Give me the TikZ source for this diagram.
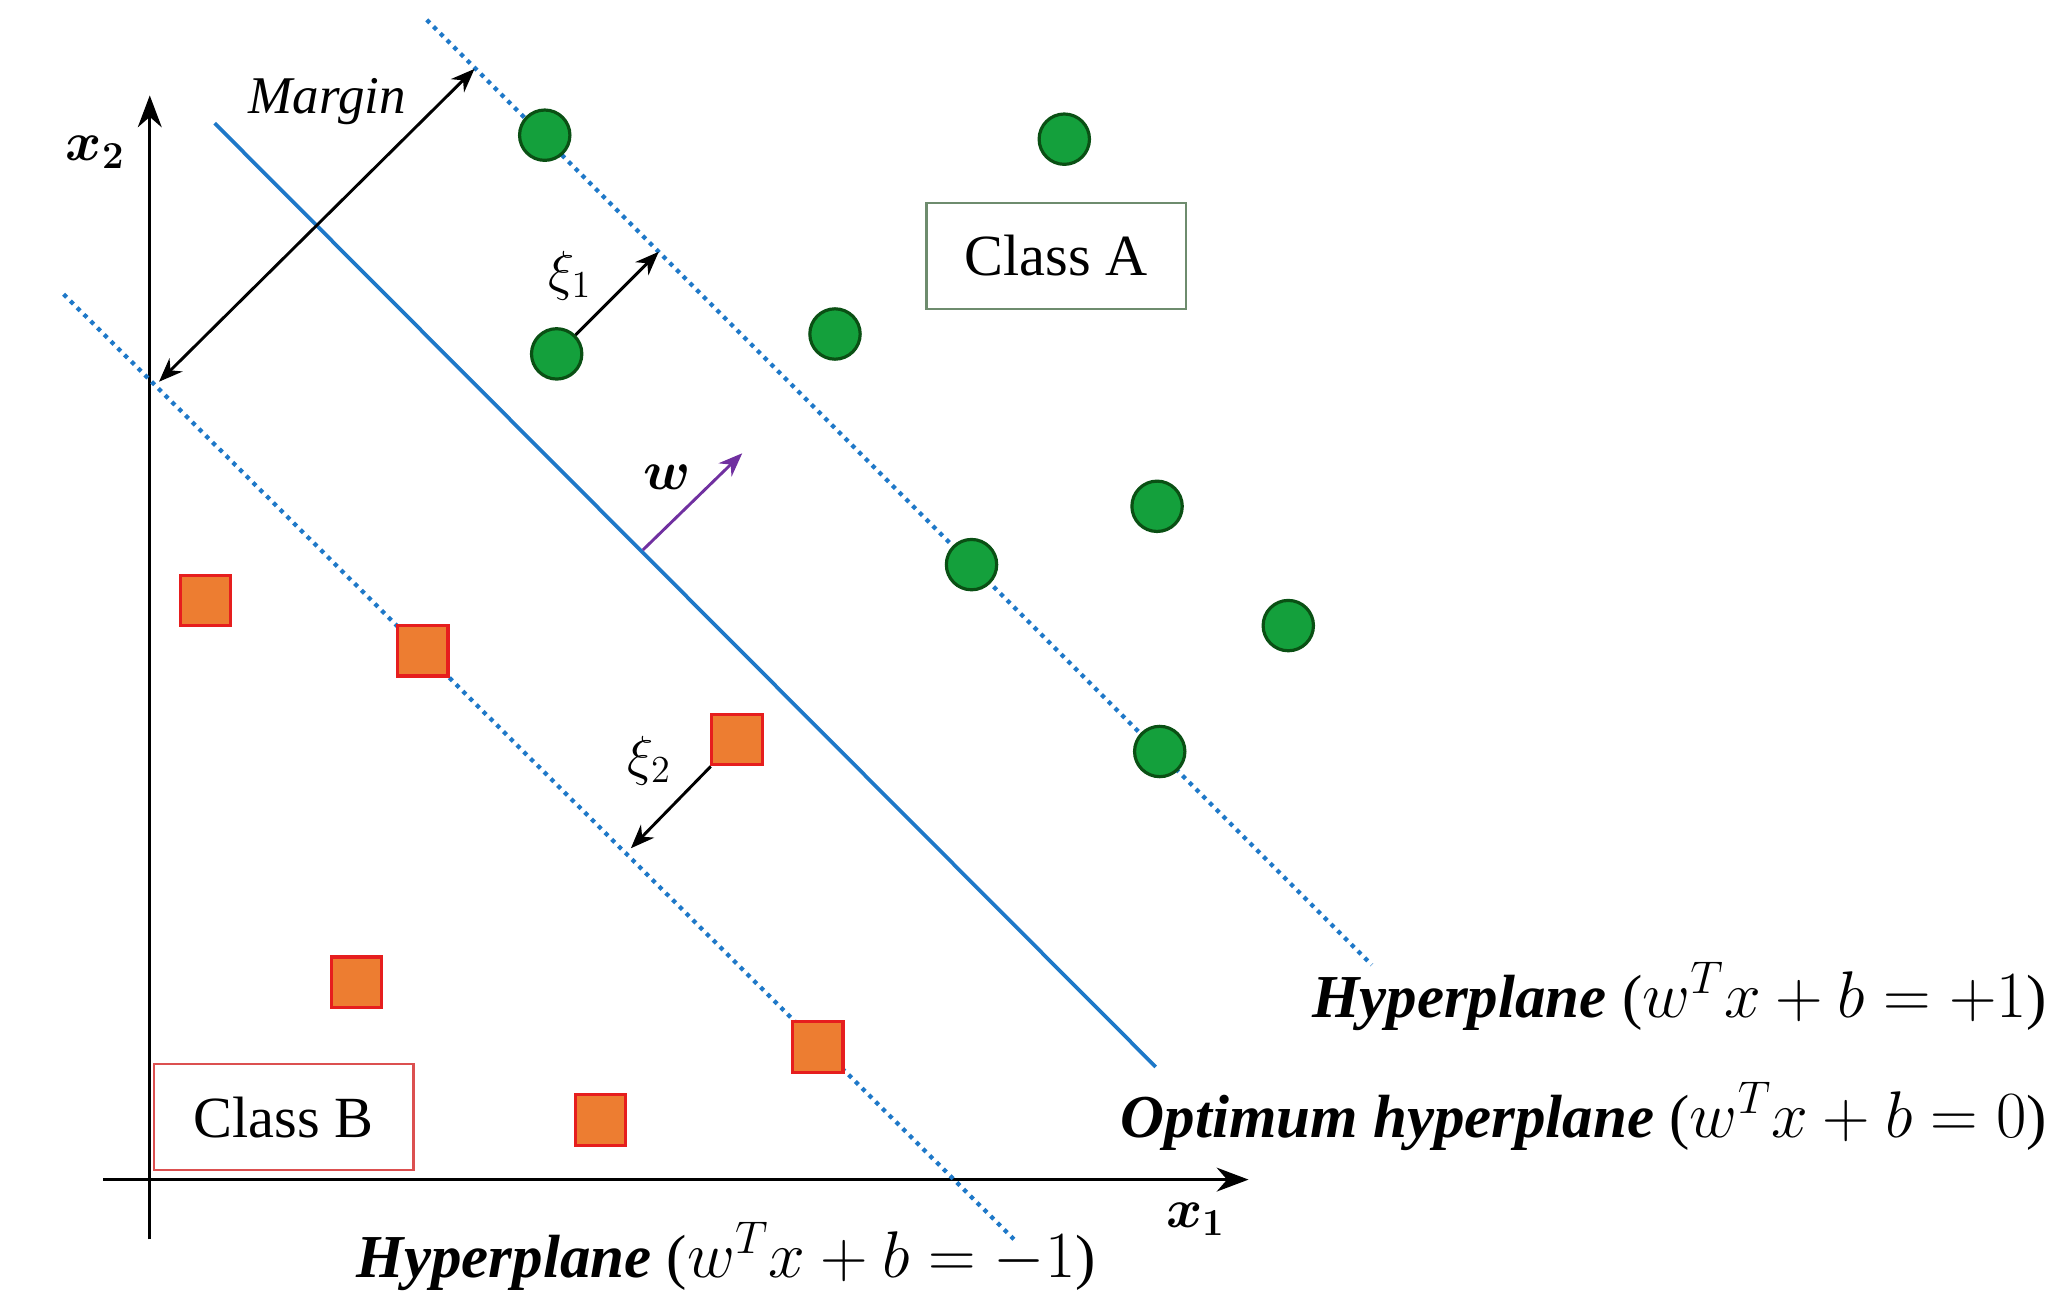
\documentclass[tikz,border=0pt]{standalone}
\usepackage{amsmath,bm}
\usepackage{fontspec}
\setmainfont{Liberation Serif}
\usetikzlibrary{arrows.meta}
\definecolor{lineblue}{RGB}{30,120,200}
\definecolor{gfill}{RGB}{20,160,60}
\definecolor{gdraw}{RGB}{10,80,20}
\definecolor{ofill}{RGB}{237,125,49}
\definecolor{odraw}{RGB}{230,30,30}
\definecolor{boxA}{RGB}{110,140,110}
\definecolor{boxB}{RGB}{220,80,80}
\definecolor{wcol}{RGB}{112,48,160}
\begin{document}
\begin{tikzpicture}[x=0.5pt,y=-0.5pt,
  pt/.style={circle,fill=gfill,draw=gdraw,line width=1.2pt,minimum size=19pt,inner sep=0},
  sq/.style={rectangle,fill=ofill,draw=odraw,line width=1.2pt,minimum size=19pt,inner sep=0},
  hyp/.style={lineblue,line width=1.4pt},
  dot/.style={lineblue,line width=1.6pt,dotted},
  arr/.style={line width=1.1pt,-{Stealth[length=9pt,width=7pt]}},
  cls/.style={draw,line width=0.8pt,minimum width=98pt,minimum height=40pt,font=\fontsize{22}{26}\selectfont},
  lab/.style={font=\fontsize{21}{25}\selectfont,inner sep=0},
  big/.style={font=\fontsize{23}{27}\selectfont,inner sep=0}]
\useasboundingbox (0,0) rectangle (1555,990);
% axes
\coordinate (ya) at (113,935); \coordinate (yb) at (113,72);
\coordinate (xa) at (78,890); \coordinate (xb) at (942,890);
\draw[line width=1.2pt,-{Stealth[length=12pt,width=9pt]}] (ya) -- (yb);
\draw[line width=1.2pt,-{Stealth[length=12pt,width=9pt]}] (xa) -- (xb);
\node[lab] (x2) at (72,115) {$\bm{x_2}$};
\node[lab] (x1) at (902,920) {$\bm{x_1}$};
% hyperplanes
\coordinate (h0a) at (162,93); \coordinate (h0b) at (872,805);
\coordinate (h1a) at (322,15); \coordinate (h1b) at (1035,728);
\coordinate (h2a) at (48,222); \coordinate (h2b) at (765,935);
\draw[hyp] (h0a) -- (h0b);
\draw[dot] (h1a) -- (h1b);
\draw[dot] (h2a) -- (h2b);
% margin
\coordinate (ma) at (120,288); \coordinate (mb) at (358,52);
\draw[line width=1.1pt,{Stealth[length=9pt,width=7pt]}-{Stealth[length=9pt,width=7pt]}] (ma) -- (mb);
\node[lab,font=\fontsize{20}{24}\selectfont\itshape] (mlab) at (247,77) {Margin};
% class A
\foreach \n/\x/\y in {a1/411/102,a2/803/105,a3/420/267,a4/630/252,a5/873/382,a6/733/426,a7/972/472,a8/875/567}
  \node[pt] (\n) at (\x,\y) {};
\node[cls,draw=boxA] (ca) at (797,193) {Class A};
% class B
\foreach \n/\x/\y in {b1/155/453,b2/319/491,b3/556/558,b4/269/741,b5/617/790,b6/453/845}
  \node[sq] (\n) at (\x,\y) {};
\node[cls,draw=boxB] (cb) at (214,843) {Class B};
% slack arrows
\coordinate (xi1e) at (497,190); \coordinate (xi2e) at (476,640);
\draw[arr] (a3) -- (xi1e);
\draw[arr] (b3) -- (xi2e);
\node[lab] (xi1) at (430,208) {$\xi_1$};
\node[lab] (xi2) at (490,574) {$\xi_2$};
% w
\coordinate (wa) at (485,415); \coordinate (wb) at (560,342);
\draw[wcol,arr] (wa) -- (wb);
\node[lab] (wl) at (503,360) {$\bm{w}$};
% labels
\node[big,anchor=east] (l1) at (1545,752) {\textbf{\textit{Hyperplane}} ($w^Tx+b=+1$)};
\node[big,anchor=east] (l0) at (1545,842) {\textbf{\textit{Optimum hyperplane}} ($w^Tx+b=0$)};
\node[big] (l2) at (548,948) {\textbf{\textit{Hyperplane}} ($w^Tx+b=-1$)};
\end{tikzpicture}
\end{document}
